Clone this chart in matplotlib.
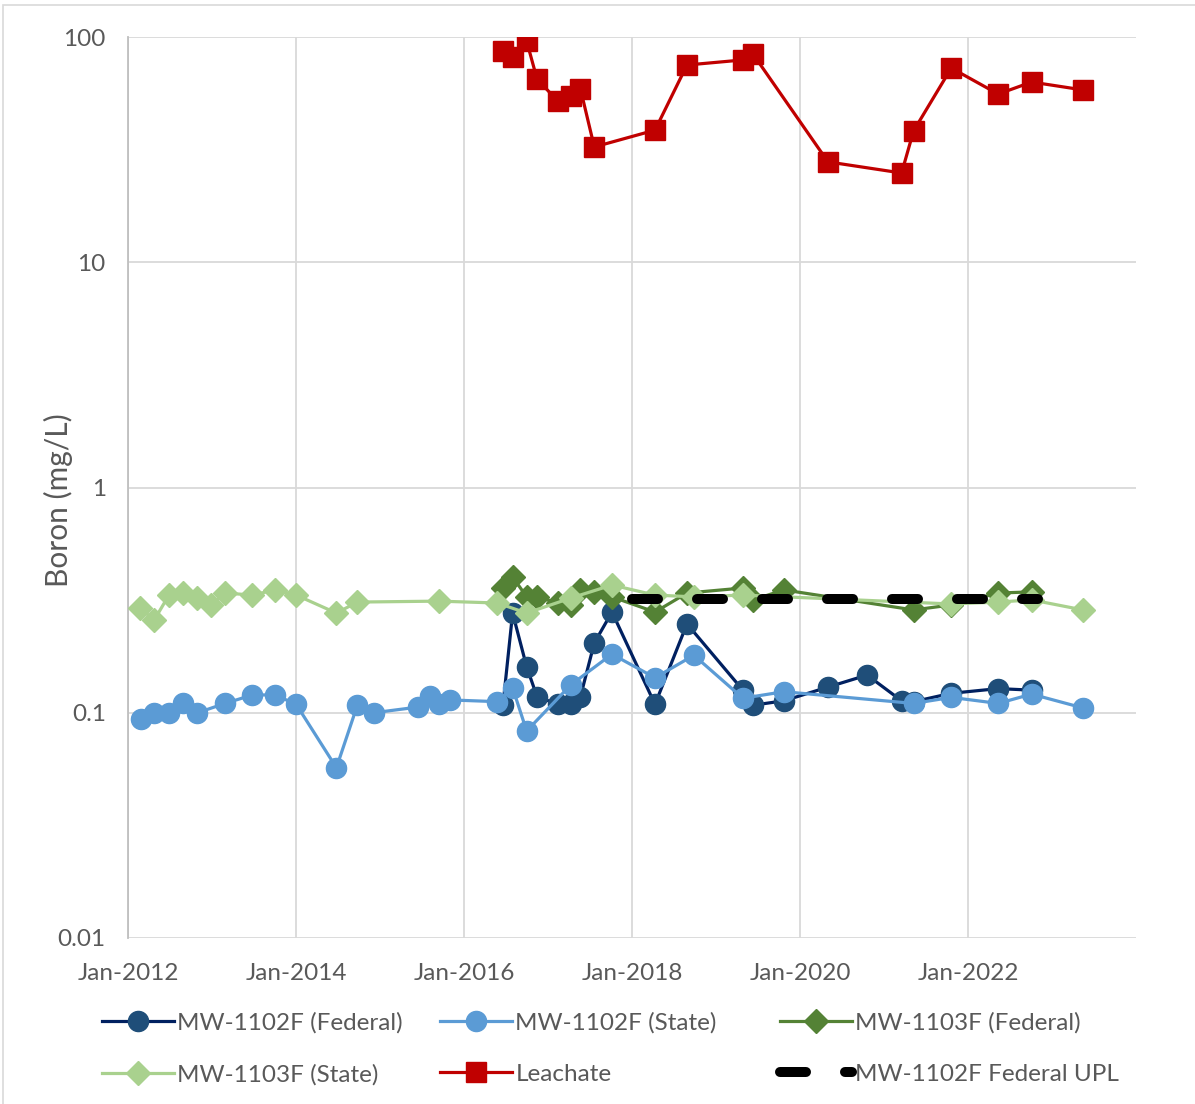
"""Boron concentrations (mg/L) over time, monitoring wells vs leachate, log scale."""

import matplotlib

matplotlib.use("Agg")
import matplotlib.dates as mdates
import matplotlib.pyplot as plt
import numpy as np
from matplotlib.patches import Rectangle

# ---- data -------------------------------------------------------------------------
mw1102_fed_dates = [
    "2016-06-18", "2016-07-30", "2016-09-29", "2016-11-13", "2017-02-11", "2017-04-09",
    "2017-05-21", "2017-07-20", "2017-10-05", "2018-04-10", "2018-08-27", "2019-04-27",
    "2019-06-10", "2019-10-22", "2020-05-01", "2020-10-18", "2021-03-17", "2021-05-08",
    "2021-10-19", "2022-05-11", "2022-10-03",
]
mw1102_fed_vals = [
    0.108, 0.277, 0.160, 0.118, 0.109, 0.109, 0.118, 0.204, 0.280, 0.109, 0.248, 0.126,
    0.108, 0.113, 0.130, 0.147, 0.113, 0.112, 0.122, 0.128, 0.126,
]

mw1102_state_dates = [
    "2012-02-26", "2012-04-24", "2012-06-27", "2012-08-27", "2012-10-29", "2013-02-26",
    "2013-06-25", "2013-10-01", "2014-01-01", "2014-06-25", "2014-09-24", "2014-12-05",
    "2015-06-15", "2015-08-06", "2015-09-14", "2015-11-01", "2016-05-25", "2016-07-30",
    "2016-09-29", "2017-04-09", "2017-10-05", "2018-04-10", "2018-09-26", "2019-04-27",
    "2019-10-22", "2021-05-08", "2021-10-19", "2022-05-11", "2022-10-03", "2023-05-15",
]
mw1102_state_vals = [
    0.094, 0.100, 0.100, 0.110, 0.100, 0.110, 0.120, 0.120, 0.109, 0.057, 0.108, 0.100,
    0.106, 0.119, 0.109, 0.114, 0.112, 0.129, 0.083, 0.133, 0.182, 0.143, 0.180, 0.116,
    0.124, 0.110, 0.117, 0.110, 0.121, 0.105,
]

mw1103_fed_dates = [
    "2016-06-18", "2016-07-30", "2016-09-29", "2016-11-13", "2017-02-11", "2017-04-09",
    "2017-05-21", "2017-07-20", "2017-10-05", "2018-04-10", "2018-08-27", "2019-04-27",
    "2019-06-10", "2019-10-22", "2021-05-08", "2021-10-19", "2022-05-11", "2022-10-03",
]
mw1103_fed_vals = [
    0.358, 0.401, 0.327, 0.327, 0.307, 0.301, 0.351, 0.344, 0.327, 0.280, 0.340, 0.358,
    0.317, 0.351, 0.286, 0.301, 0.340, 0.344,
]

mw1103_state_dates = [
    "2012-02-22", "2012-04-24", "2012-06-27", "2012-08-27", "2012-10-29", "2012-12-27",
    "2013-02-26", "2013-06-25", "2013-10-01", "2014-01-01", "2014-06-25", "2014-09-24",
    "2015-09-14", "2016-05-25", "2016-09-29", "2017-04-09", "2017-10-05", "2018-04-10",
    "2018-09-26", "2019-04-27", "2021-10-19", "2022-05-11", "2022-10-03", "2023-05-15",
]
mw1103_state_vals = [
    0.292, 0.258, 0.333, 0.340, 0.323, 0.301, 0.340, 0.333, 0.351, 0.333, 0.277, 0.310,
    0.313, 0.307, 0.277, 0.323, 0.369, 0.333, 0.327, 0.333, 0.304, 0.310, 0.317, 0.286,
]

leachate_dates = [
    "2016-06-18", "2016-07-30", "2016-09-29", "2016-11-13", "2017-02-11", "2017-04-09",
    "2017-05-21", "2017-07-20", "2018-04-10", "2018-08-27", "2019-04-27", "2019-06-10",
    "2020-05-01", "2021-03-17", "2021-05-08", "2021-10-19", "2022-05-11", "2022-10-03",
    "2023-05-15",
]
leachate_vals = [
    86.7, 81.5, 96.0, 65.1, 52.0, 54.7, 58.8, 32.5, 38.6, 75.1, 79.1, 84.0,
    27.9, 24.9, 38.3, 72.8, 55.8, 63.1, 58.2,
]

upl_dates = ["2018-01-01", "2022-11-01"]
upl_vals = [0.32, 0.32]

series_labels = [
    "MW-1102F (Federal)", "MW-1102F (State)", "MW-1103F (Federal)",
    "MW-1103F (State)", "Leachate", "MW-1102F Federal UPL",
]
x_ticks = ["2012-01-01", "2014-01-01", "2016-01-01", "2018-01-01", "2020-01-01", "2022-01-01"]
y_ticks = [0.01, 0.1, 1, 10, 100]
y_tick_labels = ["0.01", "0.1", "1", "10", "100"]

# ---- style ------------------------------------------------------------------------
plt.rcParams["font.family"] = ["Lato", "DejaVu Sans"]
TXT = "#595959"
GRID = "#D9D9D9"
FS = 17.5


def d(lst):
    return np.array(lst, dtype="datetime64[D]")


fig = plt.figure(figsize=(11.95, 11.04), dpi=100)
ax = fig.add_axes([128 / 1195, 1 - 938 / 1104, (1136 - 128) / 1195, (938 - 37) / 1104])

# outer chart border (cropped at right/bottom)
fig.patches.append(Rectangle((3 / 1195, -0.1), 1.2, 1 - 5 / 1104 + 0.1, transform=fig.transFigure,
                             fill=False, edgecolor=GRID, linewidth=1.2))

lw = 2.3
ms = 14.5
h1, = ax.plot(d(mw1102_fed_dates), mw1102_fed_vals, color="#002060", lw=lw, marker="o",
              ms=ms, mfc="#1F4E79", mec="#1F4E79", label=series_labels[0], zorder=3)
h2, = ax.plot(d(mw1102_state_dates), mw1102_state_vals, color="#5B9BD5", lw=lw, marker="o",
              ms=ms, mfc="#5B9BD5", mec="#5B9BD5", label=series_labels[1], zorder=4)
h3, = ax.plot(d(mw1103_fed_dates), mw1103_fed_vals, color="#548235", lw=lw, marker="D",
              ms=ms * 0.82, mfc="#548235", mec="#548235", label=series_labels[2], zorder=5)
h4, = ax.plot(d(mw1103_state_dates), mw1103_state_vals, color="#A9D18E", lw=lw, marker="D",
              ms=ms * 0.82, mfc="#A9D18E", mec="#A9D18E", label=series_labels[3], zorder=6)
h5, = ax.plot(d(leachate_dates), leachate_vals, color="#C00000", lw=lw, marker="s",
              ms=ms, mfc="#C00000", mec="#C00000", label=series_labels[4], zorder=7)
h6, = ax.plot(d(upl_dates), upl_vals, color="black", lw=7.2, dashes=(2.6, 3.9),
              dash_capstyle="round", label=series_labels[5], zorder=8)

ax.set_yscale("log")
ax.set_ylim(0.01, 100)
ax.set_xlim(np.datetime64("2012-01-01"), np.datetime64("2023-12-31"))
ax.set_yticks(y_ticks)
ax.set_yticklabels(y_tick_labels)
ax.yaxis.set_minor_locator(matplotlib.ticker.NullLocator())
ax.set_xticks(d(x_ticks))
ax.xaxis.set_major_formatter(mdates.DateFormatter("%b-%Y"))

ax.grid(True, color=GRID, lw=1.3, zorder=0)
ax.set_axisbelow(True)
for side in ("top", "right", "bottom"):
    ax.spines[side].set_visible(False)
ax.spines["left"].set_color("#BFBFBF")
ax.spines["left"].set_linewidth(1.3)
ax.tick_params(length=0, labelsize=FS, colors=TXT)
ax.tick_params(axis="x", pad=18)
ax.tick_params(axis="y", pad=16)
ax.set_ylabel("Boron (mg/L)", fontsize=21.5, color=TXT)
ax.yaxis.set_label_coords((73 - 128) / 1008, (938 - 500) / 901)

# legend: three columns placed separately so they sit evenly like the original
cols = [(h1, h4), (h2, h5), (h3, h6)]
col_x = [102, 440, 780]
for (a, b), x0 in zip(cols, col_x):
    fig.legend([a, b], [a.get_label(), b.get_label()], loc="upper left",
               bbox_to_anchor=(x0 / 1195, 1 - 1012 / 1104), frameon=False,
               fontsize=FS, handlelength=2.95, handletextpad=0.15, labelspacing=1.25,
               borderpad=0, borderaxespad=0, labelcolor=TXT)

fig.savefig("out.png", dpi=100)
